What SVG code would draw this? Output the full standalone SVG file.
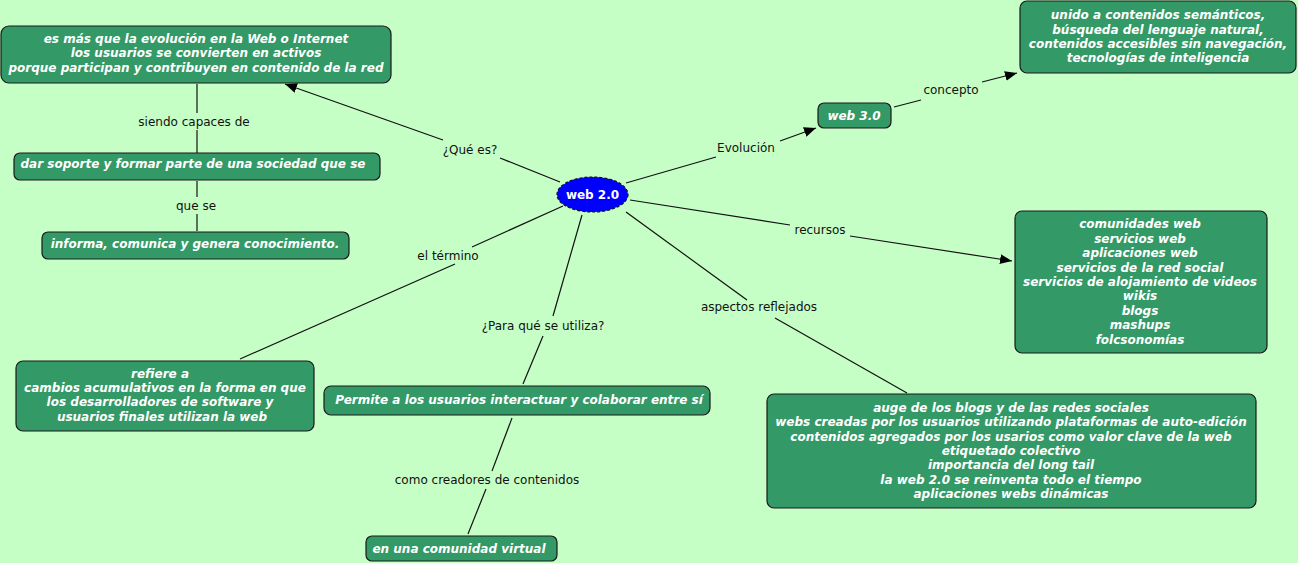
<svg xmlns="http://www.w3.org/2000/svg" width="1298" height="563" viewBox="0 0 1298 563">
<style>
.n{fill:#339966;stroke:#1a1a1a;stroke-width:1.2}
.t{font-family:"DejaVu Sans",Verdana,sans-serif;font-size:12px;font-weight:bold;font-style:italic;fill:#ffffff;text-anchor:middle}
.l{font-family:"DejaVu Sans",Verdana,sans-serif;font-size:12px;fill:#111;text-anchor:middle}
.c{stroke:#111;stroke-width:1.2;fill:none}
</style>
<defs>
<marker id="a" viewBox="0 0 12 10" refX="12" refY="5" markerWidth="12" markerHeight="10" markerUnits="userSpaceOnUse" orient="auto">
<path d="M0,0 L12,5 L0,10 z" fill="#000"/>
</marker>
</defs>
<rect width="1298" height="563" fill="#c6ffc6"/>
<g id="connectors">
<path class="c" d="M560,182 L500,158"/>
<path class="c" d="M443,140 L285,84" marker-end="url(#a)"/>
<path class="c" d="M626,183 L716,157"/>
<path class="c" d="M780,141 L816,128" marker-end="url(#a)"/>
<path class="c" d="M894,107 L921,100"/>
<path class="c" d="M982,82 L1017,73" marker-end="url(#a)"/>
<path class="c" d="M630,200 L790,225"/>
<path class="c" d="M850,236 L1012,261" marker-end="url(#a)"/>
<path class="c" d="M626,212 L747,300"/>
<path class="c" d="M775,318 L907,393"/>
<path class="c" d="M563,206 L472,247"/>
<path class="c" d="M455,264 L240,359"/>
<path class="c" d="M582,215 L553,316"/>
<path class="c" d="M543,336 L523,384"/>
<path class="c" d="M512,418 L492,471"/>
<path class="c" d="M486,489 L468,534"/>
<path class="c" d="M197,84 L197,113"/>
<path class="c" d="M197,130 L197,153"/>
<path class="c" d="M197,181 L197,197"/>
<path class="c" d="M197,214 L197,231"/>
<text class="l" x="470" y="154">¿Qué es?</text>
<text class="l" x="746" y="152">Evolución</text>
<text class="l" x="951" y="94">concepto</text>
<text class="l" x="820" y="234">recursos</text>
<text class="l" x="759" y="311">aspectos reflejados</text>
<text class="l" x="448" y="260">el término</text>
<text class="l" x="543" y="330">¿Para qué se utiliza?</text>
<text class="l" x="487" y="484">como creadores de contenidos</text>
<text class="l" x="194" y="126">siendo capaces de</text>
<text class="l" x="196" y="210">que se</text>
</g>
<g id="center">
<ellipse cx="592.5" cy="194.5" rx="35.5" ry="17.5" fill="#0000ff" stroke="#111" stroke-width="1.2" stroke-dasharray="3,2"/>
<text x="592.5" y="199" font-family="DejaVu Sans,Verdana,sans-serif" font-size="12" font-weight="bold" fill="#fff" text-anchor="middle">web 2.0</text>
</g>
<g id="que-es">
<rect class="n" x="1" y="26" width="390" height="57" rx="8"/>
<text class="t" x="196" y="43">es más que la evolución en la Web o Internet</text>
<text class="t" x="196" y="57">los usuarios se convierten en activos</text>
<text class="t" x="196" y="72">porque participan y contribuyen en contenido de la red</text>
</g>
<g id="soporte">
<rect class="n" x="14" y="153" width="366" height="27" rx="6"/>
<text class="t" x="193" y="168">dar soporte y formar parte de una sociedad que se</text>
</g>
<g id="informa">
<rect class="n" x="42" y="232" width="307" height="27" rx="6"/>
<text class="t" x="195" y="248">informa, comunica y genera conocimiento.</text>
</g>
<g id="web30">
<rect class="n" x="818" y="103" width="73" height="25" rx="6"/>
<text class="t" x="854" y="120">web 3.0</text>
</g>
<g id="concepto">
<rect class="n" x="1020" y="1" width="276" height="72" rx="7"/>
<text class="t" x="1158" y="19">unido a contenidos semánticos,</text>
<text class="t" x="1158" y="34">búsqueda del lenguaje natural,</text>
<text class="t" x="1158" y="48">contenidos accesibles sin navegación,</text>
<text class="t" x="1158" y="62">tecnologías de inteligencia</text>
</g>
<g id="recursos">
<rect class="n" x="1015" y="211" width="252" height="142" rx="7"/>
<text class="t" x="1140" y="228">comunidades web</text>
<text class="t" x="1140" y="243">servicios web</text>
<text class="t" x="1140" y="257">aplicaciones web</text>
<text class="t" x="1140" y="272">servicios de la red social</text>
<text class="t" x="1140" y="286">servicios de alojamiento de videos</text>
<text class="t" x="1140" y="300">wikis</text>
<text class="t" x="1140" y="315">blogs</text>
<text class="t" x="1140" y="329">mashups</text>
<text class="t" x="1140" y="344">folcsonomías</text>
</g>
<g id="aspectos">
<rect class="n" x="767" y="394" width="489" height="114" rx="7"/>
<text class="t" x="1011" y="412">auge de los blogs y de las redes sociales</text>
<text class="t" x="1011" y="426">webs creadas por los usuarios utilizando plataformas de auto-edición</text>
<text class="t" x="1011" y="441">contenidos agregados por los usarios como valor clave de la web</text>
<text class="t" x="1011" y="455">etiquetado colectivo</text>
<text class="t" x="1011" y="469">importancia del long tail</text>
<text class="t" x="1011" y="484">la web 2.0 se reinventa todo el tiempo</text>
<text class="t" x="1011" y="498">aplicaciones webs dinámicas</text>
</g>
<g id="termino">
<rect class="n" x="16" y="361" width="298" height="70" rx="7"/>
<text class="t" x="160" y="378">refiere a</text>
<text class="t" x="165" y="392">cambios acumulativos en la forma en que</text>
<text class="t" x="160" y="406">los desarrolladores de software y</text>
<text class="t" x="162" y="421">usuarios finales utilizan la web</text>
</g>
<g id="permite">
<rect class="n" x="324" y="386" width="386" height="29" rx="7"/>
<text class="t" x="519" y="404">Permite a los usuarios interactuar y colaborar entre sí</text>
</g>
<g id="comunidad">
<rect class="n" x="366" y="536" width="191" height="25" rx="6"/>
<text class="t" x="459" y="553">en una comunidad virtual</text>
</g>
</svg>
